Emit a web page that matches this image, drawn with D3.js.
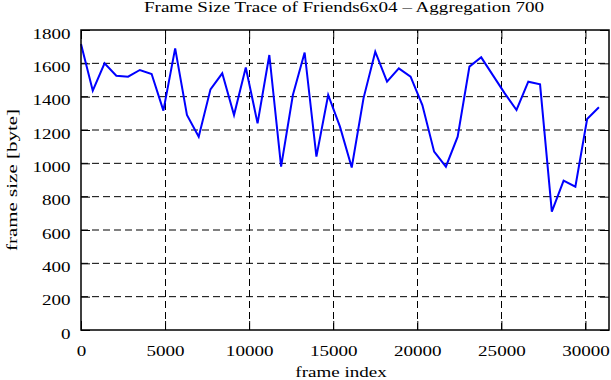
<!DOCTYPE html>
<html>
<head>
<meta charset="utf-8">
<script src="https://cdn.jsdelivr.net/npm/d3@7"></script>
<style>
  body { margin: 0; background: #fff; }
  text { font-family: "Liberation Serif", "Times New Roman", serif; fill: #000; }
</style>
</head>
<body>
<script>
var width = 611,
    height = 380;

var margin = {top: 30, right: 2, bottom: 50, left: 81};

// frame index (aggregation of 700 frames) and frame size in byte
var frames = [0, 700, 1400, 2100, 2800, 3500, 4200, 4900, 5600, 6300,
              7000, 7700, 8400, 9100, 9800, 10500, 11200, 11900, 12600, 13300,
              14000, 14700, 15400, 16100, 16800, 17500, 18200, 18900, 19600, 20300,
              21000, 21700, 22400, 23100, 23800, 24500, 25200, 25900, 26600, 27300,
              28000, 28700, 29400, 30100, 30800];
var sizes = [1716, 1436, 1600, 1526, 1520, 1560, 1536, 1316, 1690, 1290,
             1160, 1444, 1540, 1290, 1575, 1240, 1650, 980, 1410, 1665,
             1040, 1410, 1220, 975, 1390, 1670, 1490, 1570, 1520, 1350,
             1070, 980, 1160, 1580, 1636, 1528, 1420, 1320, 1490, 1474,
             710, 896, 860, 1266, 1336];

var xTicks = [0, 5000, 10000, 15000, 20000, 25000, 30000];
var yTicks = [0, 200, 400, 600, 800, 1000, 1200, 1400, 1600, 1800];

var fontSize = "15px",
    stretch = 1.27; // the reference text is wider than it is tall

var x = d3.scaleLinear()
          .domain([0, 31400])
          .range([margin.left, width - margin.right]);

var y = d3.scaleLinear()
          .domain([0, 1800])
          .range([height - margin.bottom, margin.top]);

var svg = d3.select("body")
            .append("svg")
            .attr("width", width)
            .attr("height", height);

var x0 = margin.left, x1 = width - margin.right,
    y0 = height - margin.bottom, y1 = margin.top;
var tick = 9;

// dashed grid
svg.append("g")
   .selectAll("line")
   .data(yTicks.slice(1, -1))
   .enter()
   .append("line")
   .attr("x1", x0).attr("x2", x1)
   .attr("y1", function(d) { return y(d); })
   .attr("y2", function(d) { return y(d); })
   .attr("stroke", "#000")
   .attr("stroke-width", 1)
   .attr("stroke-dasharray", "7,4");

svg.append("g")
   .selectAll("line")
   .data(xTicks.slice(1))
   .enter()
   .append("line")
   .attr("y1", y0).attr("y2", y1)
   .attr("x1", function(d) { return Math.round(x(d)) + 0.5; })
   .attr("x2", function(d) { return Math.round(x(d)) + 0.5; })
   .attr("stroke", "#000")
   .attr("stroke-width", 1)
   .attr("stroke-dasharray", "7,4");

// axes with inward ticks on all four sides
svg.append("g")
   .attr("transform", "translate(0," + y0 + ")")
   .call(d3.axisBottom(x).tickValues(xTicks).tickFormat(d3.format("d")).tickSizeInner(-tick).tickSizeOuter(0))
   .call(function(g) {
       g.select(".domain").remove();
       g.selectAll("text")
        .attr("x", 0).attr("y", 0).attr("dy", null)
        .attr("text-anchor", "middle")
        .attr("transform", "translate(0,26) scale(" + stretch + ",1)")
        .style("font-family", "Liberation Serif")
        .style("font-size", fontSize);
   });

svg.append("g")
   .attr("transform", "translate(0," + y1 + ")")
   .call(d3.axisTop(x).tickValues(xTicks).tickSizeInner(-tick).tickSizeOuter(0).tickFormat(""))
   .call(function(g) { g.select(".domain").remove(); });

svg.append("g")
   .attr("transform", "translate(" + x0 + ",0)")
   .call(d3.axisLeft(y).tickValues(yTicks).tickFormat(d3.format("d")).tickSizeInner(-tick).tickSizeOuter(0))
   .call(function(g) {
       g.select(".domain").remove();
       g.selectAll("text")
        .attr("x", 0).attr("dy", null)
        .attr("text-anchor", "end")
        .attr("transform", "translate(-10.5,8) scale(" + stretch + ",1)")
        .style("font-family", "Liberation Serif")
        .style("font-size", fontSize);
   });

svg.append("g")
   .attr("transform", "translate(" + x1 + ",0)")
   .call(d3.axisRight(y).tickValues(yTicks).tickSizeInner(-tick).tickSizeOuter(0).tickFormat(""))
   .call(function(g) { g.select(".domain").remove(); });

// the trace
var line = d3.line()
             .x(function(d, i) { return x(frames[i]); })
             .y(function(d) { return y(d); });

svg.append("path")
   .datum(sizes)
   .attr("d", line)
   .attr("fill", "none")
   .attr("stroke", "#0000ff")
   .attr("stroke-width", 2);

// frame
svg.append("rect")
   .attr("x", x0).attr("y", y1)
   .attr("width", x1 - x0)
   .attr("height", y0 - y1)
   .attr("fill", "none")
   .attr("stroke", "#000")
   .attr("stroke-width", 1.5);

svg.append("text")
   .attr("transform", "translate(344,12) scale(" + stretch + ",1)")
   .attr("text-anchor", "middle")
   .attr("font-size", fontSize)
   .text("Frame Size Trace of Friends6x04 \u2013 Aggregation 700");

svg.append("text")
   .attr("transform", "translate(341,377) scale(" + stretch + ",1)")
   .attr("text-anchor", "middle")
   .attr("font-size", fontSize)
   .text("frame index");

svg.append("text")
   .attr("transform", "translate(17,180) rotate(-90) scale(1.4,1)")
   .attr("text-anchor", "middle")
   .attr("font-size", fontSize)
   .text("frame size [byte]");
</script>
</body>
</html>
